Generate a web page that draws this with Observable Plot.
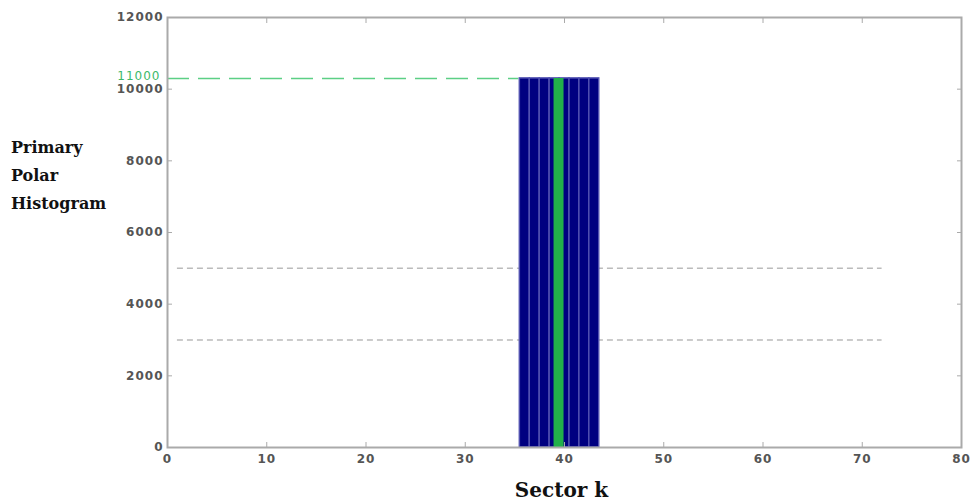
<!DOCTYPE html>
<html>
<head>
<meta charset="utf-8">
<script src="https://cdn.jsdelivr.net/npm/d3@7"></script>
<script src="https://cdn.jsdelivr.net/npm/@observablehq/plot@0.6"></script>
<style>
  body { margin: 0; background: #fff; }
  #wrap { position: relative; width: 971px; height: 502px; }
  .lab { position: absolute; font-family: "DejaVu Serif", "Liberation Serif", serif; font-weight: bold; color: #111; }
  svg text { letter-spacing: 1px; }
</style>
</head>
<body>
<div id="wrap">
  <div id="chart"></div>
  <div class="lab" style="left:11px; top:134px; font-size:16px; line-height:28px;">Primary<br>Polar<br>Histogram</div>
  <div class="lab" style="left:0; width:971px; top:477px; font-size:20px; line-height:26px; text-align:center; padding-left:152px; box-sizing:border-box;">Sector k</div>
</div>
<script>
const sectors = [36, 37, 38, 39, 40, 41, 42, 43];
const density = [10300, 10300, 10300, 10300, 10300, 10300, 10300, 10300];
const thresholds = [3000, 5000];
const thresholdSpan = [1, 72];
const maxLevel = 10300;
const maxLabel = "11000";
const maxSpan = [0, 35.4];
const selectedSector = [39.4];
const xTicks = [0, 10, 20, 30, 40, 50, 60, 70, 80];
const yTicks = [0, 2000, 4000, 6000, 8000, 10000, 12000];

const bars = sectors.map((k, i) => ({k, v: density[i]}));
const thr = thresholds.map(t => ({t}));

const chart = Plot.plot({
  width: 971,
  height: 502,
  marginLeft: 167,
  marginRight: 10,
  marginTop: 17,
  marginBottom: 55,
  x: {domain: [0, 80]},
  y: {domain: [0, 12000]},
  style: {fontFamily: "DejaVu Sans, Arial, sans-serif", fontSize: "12px", color: "#555", background: "#fff"},
  marks: [
    Plot.ruleY(thr, {y: "t", x1: thresholdSpan[0], x2: thresholdSpan[1], stroke: "#bbbbbb", strokeWidth: 1.5, strokeDasharray: "6,4"}),
    Plot.ruleY([maxLevel], {x1: maxSpan[0], x2: maxSpan[1], stroke: "#5ccf85", strokeWidth: 1.5, strokeDasharray: "22,9"}),
    Plot.rectY(bars, {x1: d => d.k - 0.5, x2: d => d.k + 0.5, y1: 0, y2: "v", fill: "#000080", stroke: "#5050b0", strokeWidth: 1.5}),
    Plot.ruleX(selectedSector, {x: d => d, y1: 0, y2: maxLevel, stroke: "#22b04a", strokeWidth: 10}),
    Plot.text([maxLabel], {x: 0, y: maxLevel, text: d => d, dx: -7, dy: -2, textAnchor: "end", fill: "#3cb96a", fontSize: 12, fontFamily: "DejaVu Sans, Arial, sans-serif"}),
    Plot.frame({stroke: "#aaa", strokeWidth: 2}),
    Plot.axisX({ticks: xTicks, tickSize: -5, tickPadding: 12, label: null, stroke: "#aaa", fontSize: 12, fontWeight: "bold", fill: "#555"}),
    Plot.axisX({ticks: xTicks, anchor: "top", tickSize: -5, tickFormat: () => "", label: null, stroke: "#aaa"}),
    Plot.axisY({ticks: yTicks, tickSize: -5, tickPadding: 9, label: null, stroke: "#aaa", fontSize: 12, fontWeight: "bold", fill: "#555", tickFormat: d3.format("d")}),
    Plot.axisY({ticks: yTicks, anchor: "right", tickSize: -5, tickFormat: () => "", label: null, stroke: "#aaa"})
  ]
});
document.getElementById("chart").appendChild(chart);
</script>
</body>
</html>
